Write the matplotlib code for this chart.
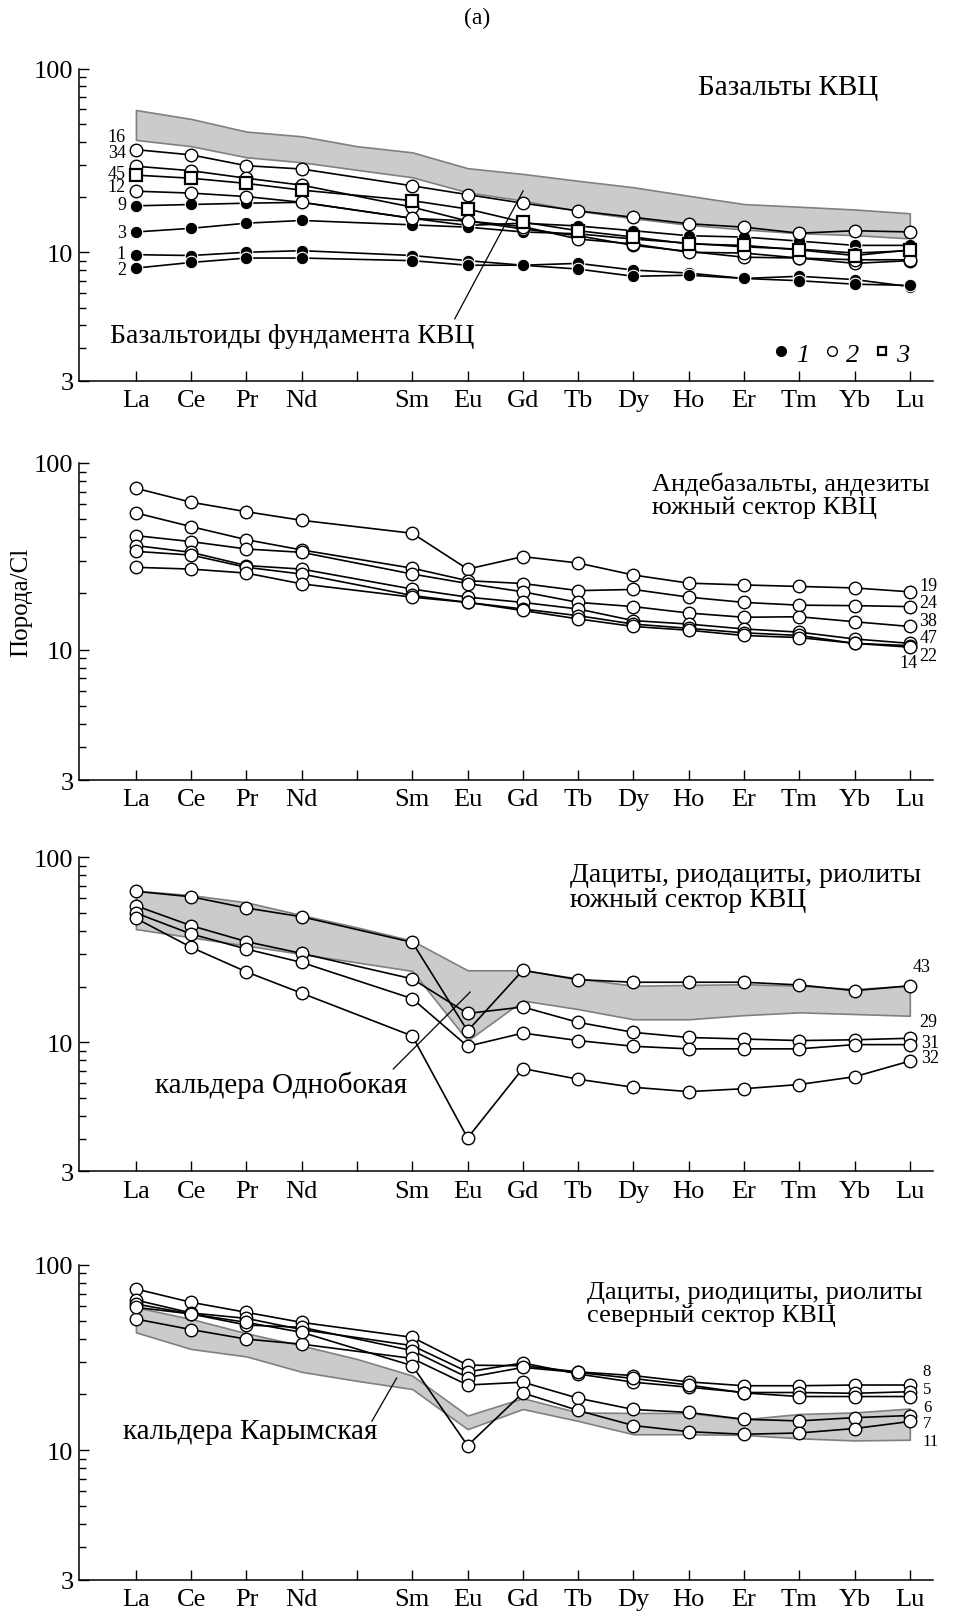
import matplotlib
matplotlib.use('Agg')
import matplotlib.pyplot as plt
from matplotlib.lines import Line2D

plt.rcParams['font.family'] = ['Liberation Serif', 'DejaVu Serif']

# REE order, atomic numbers (Pm = 61 has no data)
ree = ['La', 'Ce', 'Pr', 'Nd', 'Sm', 'Eu', 'Gd', 'Tb', 'Dy', 'Ho', 'Er', 'Tm', 'Yb', 'Lu']
z_ree = [57, 58, 59, 60, 62, 63, 64, 65, 66, 67, 68, 69, 70, 71]
z_band = [57, 58, 59, 60, 61, 62, 63, 64, 65, 66, 67, 68, 69, 70, 71]
tick_z = list(range(57, 72))
tick_labels = ['La', 'Ce', 'Pr', 'Nd', '', 'Sm', 'Eu', 'Gd', 'Tb', 'Dy', 'Ho', 'Er', 'Tm', 'Yb', 'Lu']

# panel 1: basalts
bas_band_hi = [59.5, 53.2, 45.4, 42.8, 37.8, 35.0, 28.7, 26.7, 24.5, 22.6, 20.3, 18.3, 17.7, 17.1, 16.3]
bas_band_lo = [40.9, 37.8, 32.9, 30.9, 28.1, 25.6, 21.2, 19.1, 16.8, 15.3, 14.1, 13.3, 12.7, 12.4, 11.9]
bas_34 = [36.2, 33.9, 29.6, 28.4, 23.0, 20.6, 18.5, 16.8, 15.5, 14.3, 13.7, 12.7, 13.1, 12.9]
bas_16 = [29.4, 27.8, 25.3, 23.2, 17.6, 14.8, 13.4, 12.3, 10.9, 10.1, 9.4, 9.3, 8.7, 9.0]
bas_45 = [26.3, 25.3, 23.7, 21.8, 19.1, 17.2, 14.6, 13.1, 12.1, 11.1, 10.9, 10.3, 9.6, 10.3]
bas_12 = [21.5, 21.0, 20.1, 18.7, 15.3, 14.8, 13.8, 11.8, 11.1, 10.0, 9.9, 9.3, 9.1, 9.1]
bas_9 = [17.9, 18.2, 18.5, 18.7, 15.3, 14.0, 14.4, 13.9, 13.1, 12.3, 12.1, 11.5, 10.9, 10.9]
bas_3 = [12.9, 13.5, 14.4, 14.9, 14.1, 13.7, 12.9, 12.6, 11.8, 11.2, 10.7, 10.4, 9.9, 10.2]
bas_1 = [9.7, 9.6, 10.0, 10.2, 9.6, 9.0, 8.5, 8.7, 8.0, 7.7, 7.2, 7.4, 7.1, 6.5]
bas_2 = [8.2, 8.8, 9.3, 9.3, 9.0, 8.5, 8.5, 8.1, 7.4, 7.5, 7.2, 7.0, 6.7, 6.6]

# panel 2: andesibasalts, andesites
and_19 = [73.2, 61.6, 54.8, 49.3, 42.0, 27.0, 31.5, 29.1, 25.1, 22.7, 22.2, 21.8, 21.4, 20.4]
and_24 = [54.0, 45.6, 38.8, 34.2, 27.3, 23.4, 22.6, 20.7, 21.0, 19.1, 17.9, 17.3, 17.2, 17.0]
and_38 = [40.8, 37.9, 34.6, 33.2, 25.4, 22.6, 20.4, 17.9, 17.0, 15.7, 14.9, 15.0, 14.1, 13.3]
and_47 = [36.1, 33.2, 28.2, 27.0, 21.1, 19.1, 17.9, 16.5, 14.3, 13.7, 12.9, 12.4, 11.4, 10.8]
and_22 = [33.6, 32.1, 27.6, 25.4, 19.5, 17.9, 16.5, 15.2, 13.7, 13.0, 12.3, 11.9, 10.8, 10.5]
and_14 = [27.6, 27.0, 25.7, 22.5, 19.1, 17.9, 16.2, 14.6, 13.3, 12.7, 11.9, 11.6, 10.8, 10.3]

# panel 3: dacites, south sector
south_band_hi = [66.0, 62.5, 57.1, 48.7, 41.8, 35.4, 24.5, 24.5, 22.1, 20.2, 20.4, 20.6, 20.2, 19.4, 20.2]
south_band_lo = [40.9, 36.9, 33.3, 30.0, 27.0, 24.3, 10.2, 16.8, 15.1, 13.3, 13.3, 14.0, 14.5, 14.2, 13.9]
dac_43 = [65.5, 61.2, 53.2, 47.7, 34.7, 11.5, 24.5, 21.8, 21.1, 21.1, 21.1, 20.4, 19.0, 20.2]
dac_29 = [54.7, 42.7, 35.0, 30.2, 22.0, 14.3, 15.5, 12.8, 11.3, 10.6, 10.4, 10.2, 10.3, 10.5]
dac_31 = [50.0, 38.5, 31.9, 27.0, 17.2, 9.5, 11.2, 10.2, 9.5, 9.2, 9.2, 9.2, 9.7, 9.7]
dac_32 = [46.8, 32.6, 24.0, 18.4, 10.8, 3.03, 7.2, 6.3, 5.7, 5.4, 5.6, 5.9, 6.5, 7.9]

# panel 4: dacites, north sector
north_band_hi = [59.1, 51.1, 42.8, 36.7, 31.1, 25.3, 15.4, 19.1, 16.0, 15.9, 15.9, 14.7, 15.7, 16.0, 16.8]
north_band_lo = [43.3, 35.2, 32.1, 26.5, 23.7, 21.4, 13.0, 16.7, 14.4, 12.2, 12.2, 12.1, 11.6, 11.3, 11.4]
nor_8 = [74.2, 62.9, 55.5, 49.0, 40.7, 28.8, 28.6, 26.5, 25.3, 23.4, 22.3, 22.3, 22.5, 22.5]
nor_5 = [64.7, 55.1, 51.5, 44.8, 36.7, 26.5, 29.6, 25.8, 23.3, 21.9, 20.5, 20.5, 20.3, 20.7]
nor_6 = [61.6, 54.4, 47.4, 46.1, 34.5, 24.7, 28.0, 26.3, 24.4, 22.5, 20.4, 19.5, 19.5, 19.5]
nor_7 = [51.1, 44.8, 39.8, 37.4, 31.3, 22.5, 23.3, 19.1, 16.6, 16.0, 14.7, 14.4, 15.0, 15.4]
nor_11 = [59.1, 54.4, 49.0, 43.3, 28.6, 10.6, 20.4, 16.4, 13.6, 12.6, 12.2, 12.4, 13.1, 14.3]

FS = 19     # tick labels
NUM = 13    # sample numbers
LW = 1.2


def setup(ax):
    ax.set_yscale('log')
    ax.set_ylim(2, 100)
    ax.set_xlim(57 - 1.03, 57 + 14.42)
    for s in ['top', 'right']:
        ax.spines[s].set_visible(False)
    for s in ['left', 'bottom']:
        ax.spines[s].set_linewidth(1.1)
    ax.set_yticks([2, 10, 100], labels=['3', '10', '100'])
    ax.set_yticks([3, 4, 5, 6, 7, 8, 9, 20, 30, 40, 50, 60, 70, 80, 90], minor=True)
    ax.yaxis.set_minor_formatter(plt.NullFormatter())
    ax.set_xticks(tick_z, labels=tick_labels)
    ax.tick_params(axis='both', which='major', direction='in', length=7, width=1, labelsize=FS)
    ax.tick_params(axis='y', which='minor', direction='in', length=5, width=1)
    ax.tick_params(axis='x', which='major', pad=6)
    ax.tick_params(axis='y', which='major', pad=4)


def series(ax, vals, kind='o'):
    if kind == 'f':
        ax.plot(z_ree, vals, '-', color='k', lw=LW, marker='o', ms=9, mfc='k', mec='white', mew=0.8, zorder=3)
    elif kind == 's':
        ax.plot(z_ree, vals, '-', color='k', lw=LW, marker='s', ms=8, mfc='white', mec='k', mew=1.6, zorder=4)
    else:
        ax.plot(z_ree, vals, '-', color='k', lw=LW, marker='o', ms=9, mfc='white', mec='k', mew=1.0, zorder=3)


def band(ax, lo, hi):
    ax.fill_between(z_band, lo, hi, facecolor='#cbcbcb', edgecolor='#808080', lw=1.2, zorder=1)


fig = plt.figure(figsize=(9.54, 16.15), dpi=100)
L, W = 0.0828, 0.8952
ax1 = fig.add_axes([L, 0.7637, W, 0.1932])
ax2 = fig.add_axes([L, 0.5164, W, 0.1963])
ax3 = fig.add_axes([L, 0.2741, W, 0.1944])
ax4 = fig.add_axes([L, 0.0212, W, 0.1949])
for ax in [ax1, ax2, ax3, ax4]:
    setup(ax)

# ---- panel 1
band(ax1, bas_band_lo, bas_band_hi)
for v in [bas_1, bas_2, bas_9, bas_3]:
    series(ax1, v, 'f')
for v in [bas_34, bas_16, bas_12]:
    series(ax1, v, 'o')
series(ax1, bas_45, 's')
ax1.text(0.725, 0.941, 'Базальты КВЦ', transform=ax1.transAxes, fontsize=21, va='center', ha='left')
ax1.text(0.036, 0.144, 'Базальтоиды фундамента КВЦ', transform=ax1.transAxes, fontsize=20, va='center', ha='left')
ax1.plot([0.440, 0.520], [0.198, 0.608], transform=ax1.transAxes, color='k', lw=0.9, zorder=5)
for lab, yy in [('16', 0.784), ('34', 0.730), ('45', 0.665), ('12', 0.621),
                ('9', 0.563), ('3', 0.476), ('1', 0.406), ('2', 0.355)]:
    ax1.text(0.055, yy, lab, transform=ax1.transAxes, fontsize=NUM, ha='right', va='center')
handles = [Line2D([], [], ls='', marker='o', ms=7, mfc='k', mec='k'),
           Line2D([], [], ls='', marker='o', ms=7, mfc='white', mec='k'),
           Line2D([], [], ls='', marker='s', ms=6, mfc='white', mec='k', mew=1.6)]
ax1.legend(handles, ['1', '2', '3'], ncol=3, loc='center right', bbox_to_anchor=(0.985, 0.086),
           frameon=False, handlelength=0.5, handletextpad=0.3, columnspacing=0.6, borderaxespad=0,
           prop={'family': 'Liberation Serif', 'style': 'italic', 'size': 19})

# ---- panel 2
for v in [and_19, and_24, and_38, and_47, and_22, and_14]:
    series(ax2, v, 'o')
ax2.text(0.671, 0.90, 'Андебазальты, андезиты\nюжный сектор КВЦ', transform=ax2.transAxes,
         fontsize=19, va='center', ha='left', linespacing=1.05)
for lab, xx, yy in [('19', 0.984, 0.613), ('24', 0.984, 0.5615), ('38', 0.984, 0.5025),
                    ('47', 0.984, 0.450), ('22', 0.984, 0.392), ('14', 0.961, 0.372)]:
    ax2.text(xx, yy, lab, transform=ax2.transAxes, fontsize=NUM, ha='left', va='center')

# ---- panel 3
band(ax3, south_band_lo, south_band_hi)
for v in [dac_43, dac_29, dac_31, dac_32]:
    series(ax3, v, 'o')
ax3.text(0.575, 0.907, 'Дациты, риодациты, риолиты\nюжный сектор КВЦ', transform=ax3.transAxes,
         fontsize=20, va='center', ha='left', linespacing=1.0)
ax3.text(0.089, 0.278, 'кальдера Однобокая', transform=ax3.transAxes, fontsize=21, va='center', ha='left')
ax3.plot([0.368, 0.458], [0.326, 0.571], transform=ax3.transAxes, color='k', lw=0.9, zorder=5)
for lab, xx, yy in [('43', 0.976, 0.651), ('29', 0.984, 0.476), ('31', 0.986, 0.411), ('32', 0.986, 0.363)]:
    ax3.text(xx, yy, lab, transform=ax3.transAxes, fontsize=NUM, ha='left', va='center')

# ---- panel 4
band(ax4, north_band_lo, north_band_hi)
for v in [nor_8, nor_5, nor_6, nor_7, nor_11]:
    series(ax4, v, 'o')
ax4.text(0.595, 0.878, 'Дациты, риодициты, риолиты\nсеверный сектор КВЦ', transform=ax4.transAxes,
         fontsize=19, va='center', ha='left', linespacing=1.05)
ax4.text(0.0515, 0.4725, 'кальдера Карымская', transform=ax4.transAxes, fontsize=21, va='center', ha='left')
ax4.plot([0.343, 0.372], [0.504, 0.641], transform=ax4.transAxes, color='k', lw=0.9, zorder=5)
for lab, yy in [('8', 0.664), ('5', 0.605), ('6', 0.550), ('7', 0.497), ('11', 0.440)]:
    ax4.text(0.988, yy, lab, transform=ax4.transAxes, fontsize=12, ha='left', va='center')

fig.text(0.5, 0.9885, '(a)', fontsize=17, ha='center', va='center')
fig.text(0.022, 0.627, 'Порода/Cl', fontsize=18, ha='center', va='center', rotation=90)

fig.savefig('out.png', dpi=100)
